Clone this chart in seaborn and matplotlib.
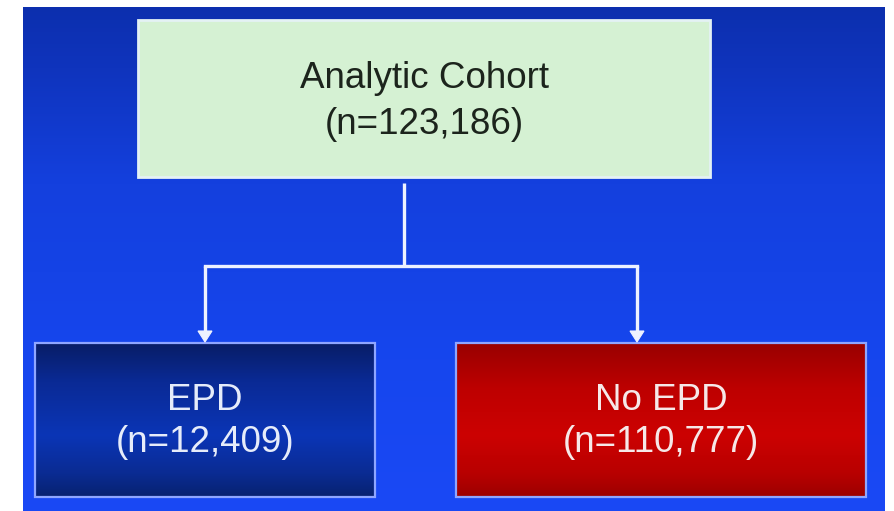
import numpy as np
import matplotlib
matplotlib.use("Agg")
import matplotlib.pyplot as plt
from matplotlib.colors import LinearSegmentedColormap
from matplotlib.patches import Rectangle, Polygon
import seaborn as sns

# Cohort flow: parent group and its two subgroups
parent_label = "Analytic Cohort"
parent_n = 123186
group_labels = ["EPD", "No EPD"]
group_n = [12409, 110777]

sns.set_theme(style="white")
plt.rcParams["font.family"] = ["Liberation Sans", "DejaVu Sans"]

W, H = 894, 511
fig = plt.figure(figsize=(W / 100, H / 100), dpi=100)
ax = fig.add_axes([0, 0, 1, 1])
ax.set_xlim(0, W)
ax.set_ylim(H, 0)
ax.axis("off")
fig.patch.set_facecolor("white")


def vgrad(ax, x0, x1, y0, y1, stops, z):
    cmap = LinearSegmentedColormap.from_list("g", stops)
    grad = np.linspace(0, 1, 256).reshape(-1, 1)
    ax.imshow(grad, cmap=cmap, aspect="auto", extent=(x0, x1, y1, y0),
              zorder=z, interpolation="bicubic")


# slide background
vgrad(ax, 23, 885, 7, 511,
      [(0.0, "#0c2fae"), (0.12, "#0f34bd"), (0.35, "#1440de"),
       (0.7, "#1646ee"), (1.0, "#1a49f5")], 0)

# parent box
px0, px1, py0, py1 = 138, 710, 20, 177
ax.add_patch(Rectangle((px0, py0), px1 - px0, py1 - py0,
                       facecolor="#d5f1d3", edgecolor="#e4f2f4",
                       linewidth=2, zorder=2))
ax.text((px0 + px1) / 2, 78, parent_label, ha="center", va="center",
        fontsize=26.5, color="#1c241c", zorder=3)
ax.text((px0 + px1) / 2, 125, f"(n={parent_n:,})", ha="center",
        va="center", fontsize=26.5, color="#1c241c", zorder=3)

# child boxes
boxes = [(35, 375), (456, 866)]
by0, by1 = 343, 497
fills = [
    [(0.0, "#081d66"), (0.25, "#0a2a95"), (0.6, "#0b35b6"),
     (0.85, "#0a2b92"), (1.0, "#082270")],
    [(0.0, "#990000"), (0.3, "#be0000"), (0.6, "#cc0202"),
     (0.85, "#b80000"), (1.0, "#9c0000")],
]
text_colors = ["#e6ecfa", "#f6e8e8"]
for (bx0, bx1), stops, lab, n, tc in zip(boxes, fills, group_labels,
                                        group_n, text_colors):
    vgrad(ax, bx0, bx1, by0, by1, stops, 2)
    ax.add_patch(Rectangle((bx0, by0), bx1 - bx0, by1 - by0,
                           facecolor="none", edgecolor="#8fa6ff",
                           linewidth=1.6, zorder=3))
    cx = (bx0 + bx1) / 2
    ax.text(cx, 400, lab, ha="center", va="center", fontsize=26.5,
            color=tc, zorder=4)
    ax.text(cx, 443, f"(n={n:,})", ha="center", va="center",
            fontsize=26.5, color=tc, zorder=4)

# connector lines and arrowheads
lc = "#eef2ff"
lw = 2.4
stem_x, junction_y = 404, 266
arrow_x = [205, 637]
ax.plot([stem_x, stem_x], [183, junction_y], color=lc, lw=lw, zorder=3,
        solid_capstyle="butt")
ax.plot([arrow_x[0], arrow_x[1]], [junction_y, junction_y], color=lc,
        lw=lw, zorder=3, solid_capstyle="projecting")
for axx in arrow_x:
    ax.plot([axx, axx], [junction_y, 333], color=lc, lw=lw, zorder=3,
            solid_capstyle="butt")
    ax.add_patch(Polygon([(axx - 7, 331), (axx + 7, 331), (axx, 342)],
                         closed=True, facecolor=lc, edgecolor=lc,
                         linewidth=0.8, zorder=4))

fig.savefig("out.png", dpi=100)
